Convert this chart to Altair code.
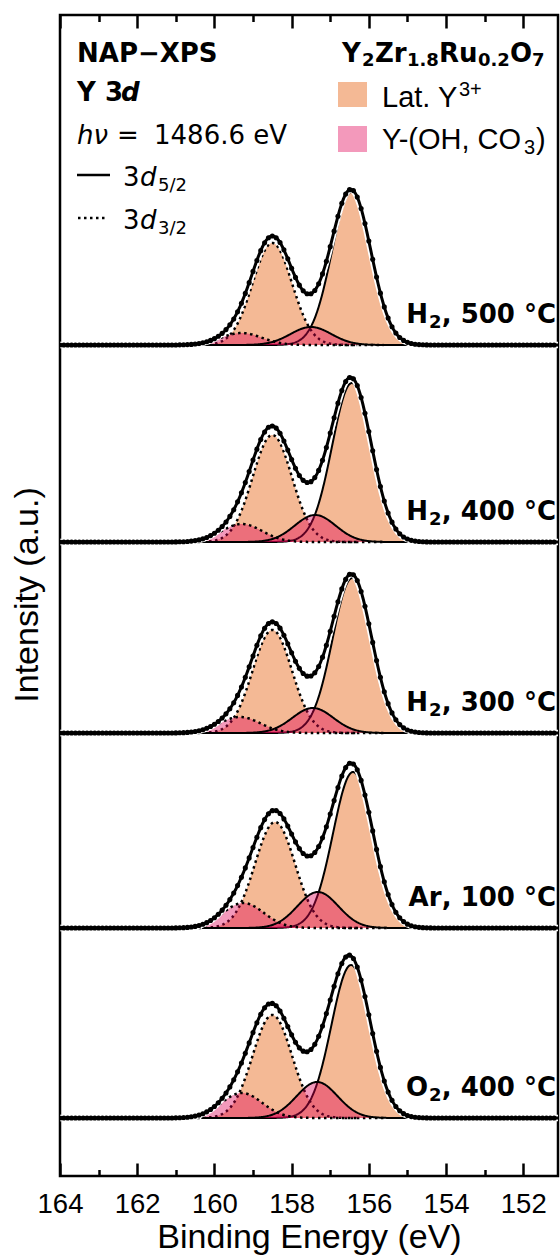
import numpy as np
import pandas as pd
import altair as alt

# ---------------- data ----------------
gas_head = ["H", "H", "H", "Ar", "O"]
gas_sub = ["2", "2", "2", "", "2"]
temps = [", 500 °C", ", 400 °C", ", 300 °C", ", 100 °C", ", 400 °C"]
offsets = [8.31, 6.34, 4.43, 2.48, 0.58]           # vertical stacking offset (a.u.)

# Lat. Y3+ doublet
lat52_center = [156.45, 156.44, 156.43, 156.41, 156.46]
lat52_height = [1.53, 1.59, 1.55, 1.56, 1.53]
lat32_center = [158.50, 158.50, 158.50, 158.43, 158.50]
lat32_height = [1.02, 1.07, 1.03, 1.06, 1.03]
lat_fwhm = [1.20, 1.20, 1.20, 1.22, 1.20]

# Y-(OH, CO3) doublet
oh52_center = [157.50, 157.39, 157.45, 157.32, 157.34]
oh52_height = [0.18, 0.27, 0.25, 0.36, 0.36]
oh32_center = [159.30, 159.29, 159.34, 159.25, 159.29]
oh32_height = [0.12, 0.18, 0.16, 0.25, 0.25]
oh_fwhm = [1.25, 1.25, 1.25, 1.25, 1.25]

major_ticks = [164, 162, 160, 158, 156, 154, 152]
minor_ticks = [163, 161, 159, 157, 155, 153]

LAT_COLOR = "#f4b995"
OH_COLOR = "#e10055"
OH_ALPHA = 0.4

W, H = 498, 1161
x_dom = [164, 151.1]
y_dom = [0, 11.61]

# ---------------- build tables ----------------
grid = np.round(np.arange(164.0, 151.09, -0.02), 2)
pts_grid = np.round(np.arange(164.0, 151.15, -0.1), 1)


def gauss(x, c, h, w):
    return h * np.exp(-4 * np.log(2) * (x - c) ** 2 / w ** 2)


comp_rows, env_rows, pt_rows, lab_rows = [], [], [], []
for i in range(len(offsets)):
    cond = gas_head[i] + gas_sub[i] + temps[i]
    off = offsets[i]
    comps = [
        ("lat52", lat52_center[i], lat52_height[i], lat_fwhm[i]),
        ("lat32", lat32_center[i], lat32_height[i], lat_fwhm[i]),
        ("oh52", oh52_center[i], oh52_height[i], oh_fwhm[i]),
        ("oh32", oh32_center[i], oh32_height[i], oh_fwhm[i]),
    ]
    for name, c, h, w in comps:
        xs = grid[(grid <= c + 2.4 * w) & (grid >= c - 2.4 * w)]
        ys = gauss(xs, c, h, w)
        for x, y in zip(xs, ys):
            comp_rows.append((cond, name, cond + name, float(x), off, off + float(y)))
    env = sum(gauss(grid, c, h, w) for _, c, h, w in comps)
    for x, y in zip(grid, env):
        env_rows.append((cond, float(x), off + float(y)))
    envp = sum(gauss(pts_grid, c, h, w) for _, c, h, w in comps)
    for x, y in zip(pts_grid, envp):
        pt_rows.append((cond, float(x), off + float(y)))
    lab_rows.append((gas_head[i], gas_sub[i], temps[i], 151.15, off + 0.225))

comp_df = pd.DataFrame(comp_rows, columns=["cond", "comp", "key", "be", "base", "top"])
env_df = pd.DataFrame(env_rows, columns=["cond", "be", "y"])
pt_df = pd.DataFrame(pt_rows, columns=["cond", "be", "y"])
lab_df = pd.DataFrame(lab_rows, columns=["head", "sub", "tail", "be", "y"])

xscale = alt.Scale(domain=x_dom, nice=False, zero=False)
yscale = alt.Scale(domain=y_dom, nice=False, zero=False)

main_x_axis = alt.Axis(
    orient="bottom", values=major_ticks, format="d", ticks=False, tickSize=0,
    domain=False, grid=False, labelFont="Liberation Sans", labelFontSize=27.5,
    labelColor="black", labelPadding=14, title="Binding Energy (eV)",
    titleFont="Liberation Sans", titleFontSize=34, titleFontWeight="normal",
    titleColor="black", titleY=71, titleBaseline="alphabetic", labelFlush=False,
)


def X(axis=None):
    return alt.X("be:Q", scale=xscale, axis=axis)


def Y(field):
    return alt.Y(field, scale=yscale, axis=None)


lat_df = comp_df[comp_df.comp.isin(["lat52", "lat32"])]
oh_df = comp_df[comp_df.comp.isin(["oh52", "oh32"])]

lat_fill = alt.Chart(lat_df).mark_area(color=LAT_COLOR, opacity=1, clip=True).encode(
    x=X(main_x_axis), y=Y("top:Q"), y2="base:Q", detail="key:N"
)
lat52_line = alt.Chart(comp_df[comp_df.comp == "lat52"]).mark_line(
    color="black", strokeWidth=2, clip=True).encode(x=X(), y=Y("top:Q"), detail="key:N")
lat32_line = alt.Chart(comp_df[comp_df.comp == "lat32"]).mark_line(
    color="black", strokeWidth=2.5, strokeDash=[2.5, 3.5], clip=True).encode(
    x=X(), y=Y("top:Q"), detail="key:N")
oh_fill = alt.Chart(oh_df).mark_area(color=OH_COLOR, opacity=OH_ALPHA, clip=True).encode(
    x=X(), y=Y("top:Q"), y2="base:Q", detail="key:N"
)
oh52_line = alt.Chart(comp_df[comp_df.comp == "oh52"]).mark_line(
    color="black", strokeWidth=2, clip=True).encode(x=X(), y=Y("top:Q"), detail="key:N")
oh32_line = alt.Chart(comp_df[comp_df.comp == "oh32"]).mark_line(
    color="black", strokeWidth=2.5, strokeDash=[2.5, 3.5], clip=True).encode(
    x=X(), y=Y("top:Q"), detail="key:N")
env_halo = alt.Chart(env_df).mark_line(color="white", strokeWidth=6.5, clip=True).encode(
    x=X(), y=Y("y:Q"), detail="cond:N")
env_line = alt.Chart(env_df).mark_line(color="black", strokeWidth=3, clip=True).encode(
    x=X(), y=Y("y:Q"), detail="cond:N")
points = alt.Chart(pt_df).mark_circle(color="black", size=26, opacity=1, clip=True).encode(
    x=X(), y=Y("y:Q"))

lab_font = dict(baseline="alphabetic", font="DejaVu Sans", fontWeight="bold", color="black")
lab_tail = alt.Chart(lab_df).mark_text(align="right", fontSize=26, **lab_font).encode(
    x=X(), y=Y("y:Q"), text="tail:N")
lab_sub = alt.Chart(lab_df[lab_df["sub"] != ""]).mark_text(
    align="right", fontSize=18, dx=-114.5, dy=5, **lab_font).encode(
    x=X(), y=Y("y:Q"), text="sub:N")
lab_head_s = alt.Chart(lab_df[lab_df["sub"] != ""]).mark_text(
    align="right", fontSize=26, dx=-128, **lab_font).encode(
    x=X(), y=Y("y:Q"), text="head:N")
lab_head_n = alt.Chart(lab_df[lab_df["sub"] == ""]).mark_text(
    align="right", fontSize=26, dx=-114.5, **lab_font).encode(
    x=X(), y=Y("y:Q"), text="head:N")


def tick_layer(values, orient, size):
    return alt.Chart(pd.DataFrame({"be": values})).mark_rule(opacity=0).encode(
        x=X(alt.Axis(orient=orient, offset=-H, values=values, tickSize=size,
                     tickWidth=2.5, tickColor="black", labels=False, domain=False,
                     grid=False, title=None))
    )


ticks = [
    tick_layer(major_ticks, "top", 13),
    tick_layer(minor_ticks, "top", 6.5),
    tick_layer(major_ticks, "bottom", 13),
    tick_layer(minor_ticks, "bottom", 6.5),
]


def txt(text, x, y, size, weight="normal", style="normal", font="DejaVu Sans",
        align="left", angle=0):
    return alt.Chart(pd.DataFrame({"t": [text]})).mark_text(
        align=align, baseline="alphabetic", font=font, fontSize=size,
        fontWeight=weight, fontStyle=style, color="black", angle=angle,
    ).encode(x=alt.value(x), y=alt.value(y), text="t:N")


one = pd.DataFrame({"a": [0]})
annots = [
    # y-axis title
    txt("Intensity (a.u.)", -22, 580, 34, font="Liberation Sans", align="center", angle=270),
    txt("NAP−XPS", 17, 47, 26, "bold"),
    txt("Y 3", 17, 86, 26, "bold"),
    txt("d", 61, 86, 26, "bold", "italic"),
    txt("hν", 17, 129, 26, "normal", "italic"),
    txt("=", 57, 129, 26),
    txt("1486.6 eV", 94, 129, 26),
    alt.Chart(one).mark_rule(color="black", strokeWidth=2.5).encode(
        x=alt.value(17), x2=alt.value(50), y=alt.value(160)),
    txt("3", 63, 171, 26),
    txt("d", 80, 171, 26, "normal", "italic"),
    txt("5/2", 98, 176, 18),
    alt.Chart(one).mark_rule(color="black", strokeWidth=2.5, strokeDash=[2.5, 3.5]).encode(
        x=alt.value(18), x2=alt.value(48), y=alt.value(203)),
    txt("3", 63, 214, 26),
    txt("d", 80, 214, 26, "normal", "italic"),
    txt("3/2", 98, 219, 18),
    # formula
    txt("Y", 282, 47, 26, "bold"),
    txt("2", 302, 51, 18, "bold"),
    txt("Zr", 315, 47, 26, "bold"),
    txt("1.8", 347, 51, 18, "bold"),
    txt("Ru", 379, 47, 26, "bold"),
    txt("0.2", 418, 51, 18, "bold"),
    txt("O", 450, 47, 26, "bold"),
    txt("7", 472, 51, 18, "bold"),
    # legend swatches
    alt.Chart(one).mark_rect(color=LAT_COLOR).encode(
        x=alt.value(278), x2=alt.value(307), y=alt.value(67), y2=alt.value(92)),
    alt.Chart(one).mark_rect(color=OH_COLOR, opacity=OH_ALPHA).encode(
        x=alt.value(278), x2=alt.value(307), y=alt.value(111), y2=alt.value(137)),
    txt("Lat. Y", 322, 92, 29, font="Liberation Sans"),
    txt("3+", 399, 81, 20, font="Liberation Sans"),
    txt("Y-(OH, CO", 322, 134, 29, font="Liberation Sans"),
    txt("3", 464, 139, 20, font="Liberation Sans"),
    txt(")", 476, 134, 29, font="Liberation Sans"),
]

chart = alt.layer(
    lat_fill, lat52_line, lat32_line, oh_fill, oh52_line, oh32_line,
    env_halo, env_line, points, lab_tail, lab_sub, lab_head_s, lab_head_n,
    *ticks, *annots
).resolve_axis(x="independent").properties(
    width=W, height=H,
    padding={"left": 60, "top": 15, "right": 2, "bottom": 80},
    autosize=alt.AutoSizeParams(type="none"),
).configure_view(stroke="black", strokeWidth=2.5)

chart.save("out.html", embed_options={"renderer": "svg", "actions": False})
